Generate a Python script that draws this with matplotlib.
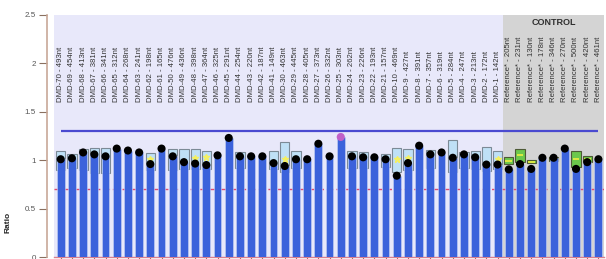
import numpy as np
import matplotlib.pyplot as plt

plt.rcParams['font.family'] = ['Liberation Sans', 'DejaVu Sans']

# sample names
dmd_ids = [70, 69, 68, 67, 66, 65, 64, 63, 62, 61, 50, 49, 48, 47, 46, 45, 44, 43, 42, 41,
           30, 29, 28, 27, 26, 25, 24, 23, 22, 21, 10, 9, 8, 7, 6, 5, 4, 3, 2, 1]
dmd_nt = [493, 454, 413, 381, 341, 312, 268, 241, 198, 165, 476, 436, 398, 364, 325, 291, 254, 220, 187, 149,
          463, 445, 405, 373, 332, 303, 262, 226, 193, 157, 469, 427, 391, 357, 319, 284, 247, 213, 172, 142]
ref_nt = [205, 231, 130, 178, 346, 270, 500, 420, 461]

labels = [f'DMD-{a} - {b}nt' for a, b in zip(dmd_ids, dmd_nt)] + [f'Reference* - {b}nt' for b in ref_nt]

# measured ratio (dot / bar top)
ratio = [1.01, 1.02, 1.08, 1.06, 1.04, 1.12, 1.10, 1.08, 0.96, 1.12,
         1.04, 0.98, 0.965, 0.95, 1.05, 1.23, 1.04, 1.04, 1.04, 0.97,
         0.94, 1.01, 1.01, 1.17, 1.04, 1.24, 1.04, 1.03, 1.03, 1.01,
         0.84, 0.97, 1.15, 1.06, 1.08, 1.025, 1.06, 1.03, 0.955, 0.955,
         0.905, 0.96, 0.91, 1.025, 1.025, 1.12, 0.91, 0.98, 1.01]

# expected range boxes (nan = no box)
nan = np.nan
box_hi = [1.10, 1.06, 1.12, 1.13, 1.13, nan, nan, nan, 1.07, nan,
          1.12, 1.12, 1.12, 1.09, nan, nan, 1.08, nan, nan, 1.09,
          1.19, 1.095, nan, nan, nan, nan, 1.095, 1.08, nan, 1.06,
          1.13, 1.115, nan, 1.105, nan, 1.21, 1.08, 1.09, 1.14, 1.095,
          1.03, 1.12, 1.00, nan, 1.035, nan, 1.10, 1.04, nan]
box_lo = [0.90, 0.92, 0.90, 0.87, 0.87, nan, nan, nan, 0.90, nan,
          0.90, 0.91, 0.91, 0.91, nan, nan, 0.92, nan, nan, 0.91,
          0.88, 0.92, nan, nan, nan, nan, 0.92, 0.92, nan, 0.93,
          0.88, 0.90, nan, 0.92, nan, 0.88, 0.92, 0.91, 0.89, 0.91,
          0.96, 0.985, 0.97, nan, 0.99, nan, 0.93, 0.985, nan]
mid_mark = [nan, nan, nan, nan, nan, nan, nan, nan, 1.01, nan,
            nan, nan, 1.02, 1.03, nan, nan, nan, nan, nan, nan,
            1.01, nan, nan, nan, nan, nan, nan, nan, nan, nan,
            1.01, 1.02, nan, nan, nan, nan, nan, nan, nan, 1.01,
            0.995, 1.05, 0.985, nan, nan, nan, 1.01, 1.01, nan]

n_dmd = len(dmd_ids)
x = np.arange(len(labels))

fig = plt.figure(figsize=(6.06, 2.59), dpi=100)
ax = fig.add_axes([54 / 606, 2 / 259, 550 / 606, 242 / 259])
ax.set_facecolor('#e8e8fa')
ax.set_xlim(-0.6, len(labels) - 0.5)
ax.set_ylim(0, 2.5)

ax.axvspan(n_dmd - 0.5, len(labels) - 0.5, color='#d4d4d4', zorder=0, lw=0)

ax.hlines(0.7, -0.6, len(labels) - 0.5, color='#e04a72', lw=1.0, ls=(0, (5, 2)), zorder=1)

for i in x:
    if np.isnan(box_hi[i]):
        continue
    ref = i >= n_dmd
    ax.bar(i, box_hi[i] - box_lo[i], bottom=box_lo[i], width=0.82,
           color='#6cc84c' if ref else '#bfe0f6',
           edgecolor='#4e5a36' if ref else '#7c8a96', lw=0.8, zorder=2)

ax.bar(x, ratio, width=0.7, color='#3b62db', edgecolor='#c8d4f4', lw=0.4, zorder=3)

for i in x:
    if np.isnan(mid_mark[i]):
        continue
    if i >= n_dmd:
        ax.hlines(mid_mark[i], i - 0.3, i + 0.3, color='#f0f040', lw=1.2, zorder=4)
    else:
        ax.plot(i, mid_mark[i], marker='*', ms=5, color='#f4f060', mec='#f4f060', zorder=2.5)

dot_colors = ['#000000'] * len(labels)
dot_colors[25] = '#c060c8'
ax.scatter(x, ratio, s=34, c=dot_colors, zorder=5, lw=0)

ax.hlines(1.3, 0, len(labels) - 1, color='#4a4ad0', lw=1.6, zorder=6)

for i, lab in zip(x, labels):
    ax.text(i, 1.6, lab, rotation=90, ha='center', va='bottom', fontsize=5.6, color='#333333')

ax.text((n_dmd - 0.5 + len(labels) - 0.5) / 2, 2.42, 'CONTROL', ha='center', va='center',
        fontsize=6.5, fontweight='bold', color='#303030')

ax.set_yticks([0, 0.5, 1, 1.5, 2, 2.5])
ax.set_yticklabels(['0', '0.5', '1', '1.5', '2', '2.5'])
ax.set_xticks(x)
ax.set_xticklabels([])
ax.tick_params(axis='y', length=6, width=0.8, color='#8a7060', labelsize=5.8, labelcolor='#555555', pad=2)
ax.tick_params(axis='x', length=3, width=0.8, color='#a06060')

for s in ['top', 'right']:
    ax.spines[s].set_visible(False)
ax.spines['left'].set_position(('outward', 5))
ax.spines['left'].set_color('#c8a898')
ax.spines['left'].set_linewidth(1.2)
ax.spines['bottom'].set_color('#d88090')
ax.spines['bottom'].set_linewidth(1.0)

fig.text(8 / 606, 1 - 222 / 259, 'Ratio', rotation=90, ha='center', va='center',
         fontsize=6, fontweight='bold', color='#222222')

fig.savefig('out.png', dpi=100)
